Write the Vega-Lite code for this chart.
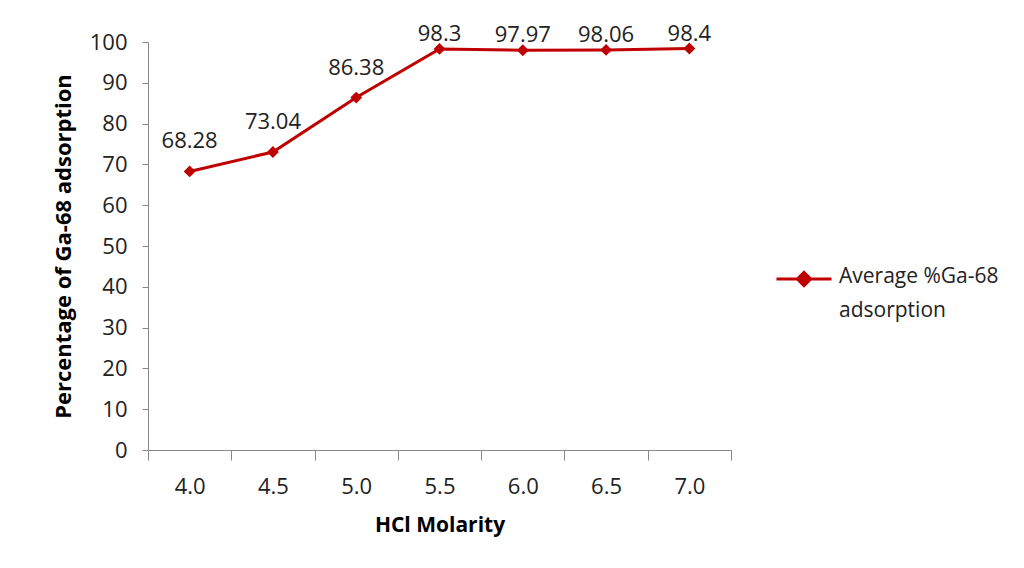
{
  "$schema": "https://vega.github.io/schema/vega-lite/v6.json",
  "autosize": "none",
  "width": 583,
  "height": 408,
  "padding": {"left": 148, "top": 42, "right": 293, "bottom": 118},
  "background": "white",
  "config": {
    "view": {"stroke": null},
    "font": "Open Sans"
  },
  "data": {
    "values": [
      {"molarity": "4.0", "value": 68.28, "series": "Average %Ga-68 adsorption"},
      {"molarity": "4.5", "value": 73.04, "series": "Average %Ga-68 adsorption"},
      {"molarity": "5.0", "value": 86.38, "series": "Average %Ga-68 adsorption"},
      {"molarity": "5.5", "value": 98.3, "series": "Average %Ga-68 adsorption"},
      {"molarity": "6.0", "value": 97.97, "series": "Average %Ga-68 adsorption"},
      {"molarity": "6.5", "value": 98.06, "series": "Average %Ga-68 adsorption"},
      {"molarity": "7.0", "value": 98.4, "series": "Average %Ga-68 adsorption"}
    ]
  },
  "encoding": {
    "x": {
      "field": "molarity",
      "type": "ordinal",
      "sort": null,
      "scale": {"type": "band", "paddingInner": 0, "paddingOuter": 0},
      "axis": {
        "title": "HCl Molarity",
        "titleFont": "Open Sans",
        "titleFontSize": 21,
        "titleFontWeight": "bold",
        "titleColor": "#000",
        "titlePadding": 17,
        "labelAngle": 0,
        "labelFont": "Open Sans",
        "labelFontSize": 22,
        "labelColor": "#222",
        "labelPadding": 16,
        "tickBand": "extent",
        "tickSize": 10,
        "domainColor": "#888",
        "tickColor": "#888",
        "grid": false
      }
    },
    "y": {
      "field": "value",
      "type": "quantitative",
      "scale": {"domain": [0, 100], "nice": false},
      "axis": {
        "title": "Percentage of Ga-68 adsorption",
        "titleFont": "Open Sans",
        "titleFontSize": 22,
        "titleFontWeight": "bold",
        "titleColor": "#000",
        "titlePadding": 14,
        "values": [0, 10, 20, 30, 40, 50, 60, 70, 80, 90, 100],
        "labelFont": "Open Sans",
        "labelFontSize": 22,
        "labelColor": "#222",
        "labelPadding": 15,
        "tickSize": 6,
        "domainColor": "#888",
        "tickColor": "#888",
        "grid": false
      }
    }
  },
  "layer": [
    {
      "mark": {"type": "line", "strokeWidth": 3, "color": "#c00000"},
      "encoding": {
        "color": {
          "field": "series",
          "type": "nominal",
          "scale": {"range": ["#c00000"]},
          "legend": {
            "title": null,
            "orient": "none",
            "legendX": 627,
            "legendY": 208,
            "symbolType": "M-1,0H1M-0.24,0L0,-0.24L0.24,0L0,0.24Z",
            "symbolSize": 3025,
            "symbolStrokeWidth": 3,
            "labelFont": "Open Sans",
            "labelFontSize": 21,
            "labelColor": "#222",
            "labelOffset": 6,
            "labelLimit": 300,
            "labelExpr": "['Average %Ga-68', 'adsorption']",
            "labelBaseline": "top",
            "padding": 0,
            "encode": {
              "symbols": {"update": {"fill": {"value": "#c00000"}, "stroke": {"value": "#c00000"}}},
              "labels": {"update": {"lineHeight": {"value": 34}, "dy": {"value": -13}}}
            }
          }
        }
      }
    },
    {
      "mark": {"type": "point", "shape": "diamond", "filled": true, "size": 140, "color": "#c00000", "opacity": 1}
    },
    {
      "transform": [{"filter": "datum.value < 95"}],
      "mark": {"type": "text", "dy": -23, "baseline": "alphabetic", "font": "Open Sans", "fontSize": 22, "color": "#222"},
      "encoding": {"text": {"field": "value", "type": "nominal"}}
    },
    {
      "transform": [{"filter": "datum.value >= 95"}],
      "mark": {"type": "text", "dy": -8, "baseline": "alphabetic", "font": "Open Sans", "fontSize": 22, "color": "#222"},
      "encoding": {"text": {"field": "value", "type": "nominal"}}
    }
  ]
}
